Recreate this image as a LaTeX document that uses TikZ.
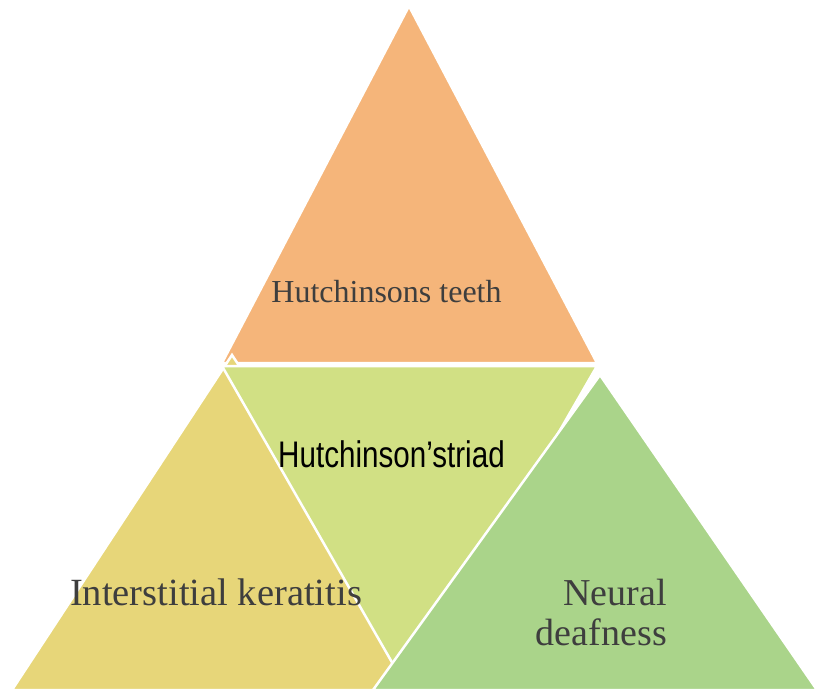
\documentclass[tikz,border=0pt]{standalone}
\usepackage{fontspec}
\setmainfont{Liberation Serif}
\newfontfamily\arialf{Liberation Sans}
\usepackage{graphicx}
\definecolor{orangeF}{HTML}{F5B57A}
\definecolor{yellowF}{HTML}{E7D679}
\definecolor{midF}{HTML}{D1E084}
\definecolor{greenF}{HTML}{AAD48A}
\definecolor{txtgray}{HTML}{3E3E3E}
\begin{document}
\begin{tikzpicture}[x=1pt,y=-1pt,
  tri/.style={draw=white,line width=2.5pt,line join=miter},
  lbl/.style={inner sep=0pt,anchor=base,text=txtgray}]
\useasboundingbox (0,0) rectangle (817,695);
\fill[white] (0,0) rectangle (817,695);
% top triangle
\coordinate (a1) at (409,6);
\coordinate (a2) at (222,363);
\coordinate (a3) at (597,363);
% left triangle
\coordinate (b1) at (232,355);
\coordinate (b2) at (12,690);
\coordinate (b3) at (452,690);
% middle inverted triangle
\coordinate (c1) at (222,366);
\coordinate (c2) at (597,366);
\coordinate (c3) at (409,692);
% right triangle
\coordinate (d1) at (600,375);
\coordinate (d2) at (373,690);
\coordinate (d3) at (817,690);
\filldraw[tri,fill=orangeF] (a1) -- (a2) -- (a3) -- cycle;
\filldraw[tri,fill=yellowF] (b1) -- (b2) -- (b3) -- cycle;
\filldraw[tri,fill=midF] (c1) -- (c2) -- (c3) -- cycle;
\filldraw[tri,fill=greenF] (d1) -- (d2) -- (d3) -- cycle;
\node[lbl,font=\fontsize{32}{36}\selectfont] (teeth) at (386.5,302) {Hutchinsons teeth};
\node[lbl,text=black,font=\arialf\fontsize{37}{40}\selectfont] (triad) at (391.5,467) {\scalebox{0.80}[1]{Hutchinson’striad}};
\node[lbl,font=\fontsize{38.5}{42}\selectfont] (kera) at (216,605) {Interstitial keratitis};
\node[lbl,anchor=base east,font=\fontsize{38}{42}\selectfont] (neural) at (667,605) {Neural};
\node[lbl,anchor=base east,font=\fontsize{38}{42}\selectfont] (deaf) at (667,645) {deafness};
\end{tikzpicture}
\end{document}
